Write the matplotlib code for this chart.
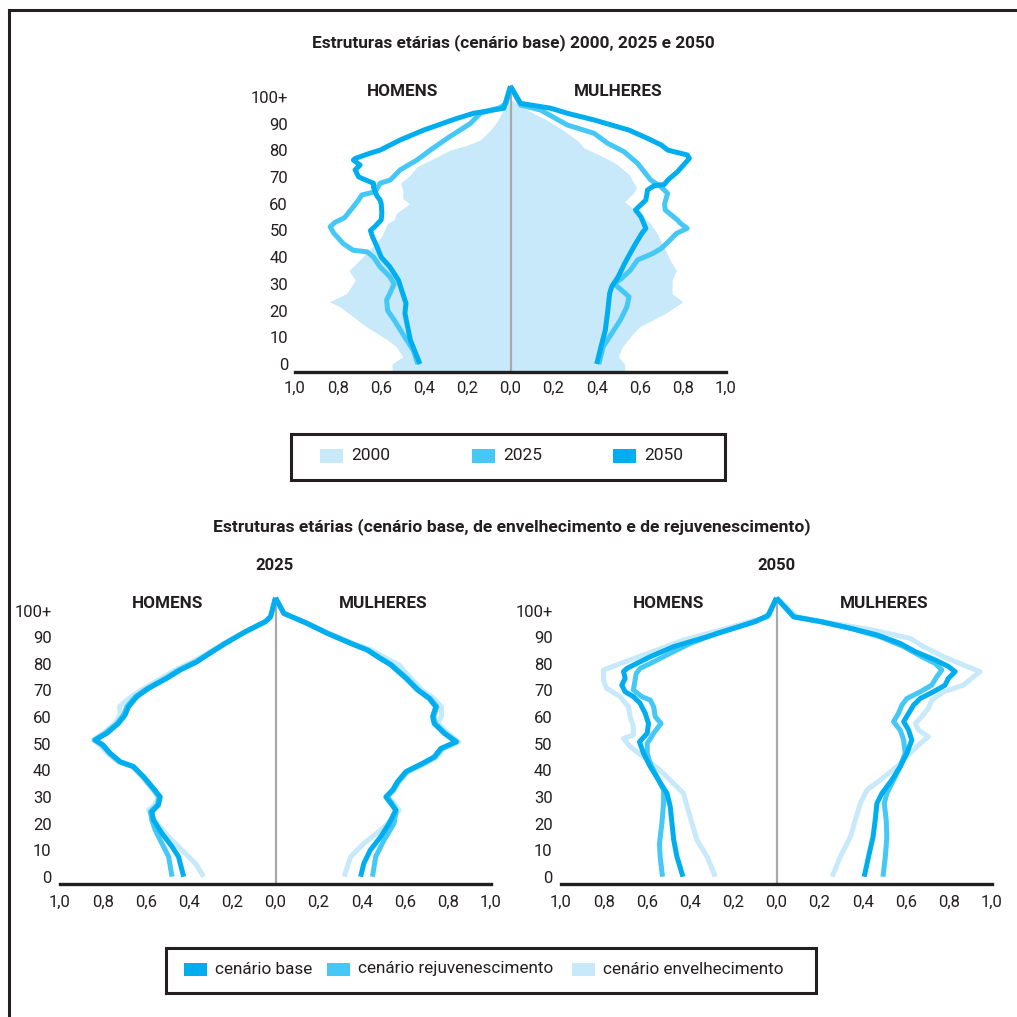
import matplotlib
matplotlib.use("Agg")
import matplotlib.pyplot as plt
from matplotlib import font_manager
from matplotlib.patches import Rectangle
from matplotlib.lines import Line2D
import numpy as np

W = H = 1017
installed = {f.name for f in font_manager.fontManager.ttflist}
FONT = [f for f in ["Liberation Sans Narrow", "Roboto", "DejaVu Sans"] if f in installed]
plt.rcParams["font.family"] = FONT

C_LIGHT = "#c7e9f9"
C_MID = "#45c8f5"
C_DARK = "#00aeef"
INK = "#231f20"
GREY = "#a7a9ac"

# ---- data: (age, % of population) --------------------------------------
# top chart: base scenario 2000 / 2025 / 2050
h2000 = [(0, 0.55), (2.7, 0.50), (6.5, 0.53), (9, 0.57), (14, 0.67), (17.7, 0.73),
         (21.4, 0.79), (23.3, 0.84), (26.4, 0.76), (31.4, 0.72), (35, 0.75), (39, 0.70),
         (44, 0.64), (47.6, 0.60), (52.7, 0.57), (54, 0.54), (56.4, 0.53), (60, 0.47),
         (62, 0.50), (65, 0.50), (67.7, 0.51), (70.8, 0.465), (73.9, 0.434), (77.6, 0.34),
         (80.1, 0.28), (82, 0.20), (83.9, 0.14), (87.6, 0.093), (91, 0.06), (95, 0.035),
         (98, 0.0)]
m2000 = [(0, 0.53), (2.7, 0.50), (6.5, 0.52), (11.5, 0.57), (14, 0.60), (19, 0.72),
         (23.3, 0.80), (26.4, 0.75), (31.4, 0.75), (35, 0.77), (39, 0.74), (44, 0.71),
         (49, 0.68), (52.6, 0.65), (56.4, 0.60), (60.7, 0.53), (64, 0.57), (66, 0.585),
         (71, 0.55), (75, 0.49), (78, 0.42), (81, 0.34), (83.4, 0.315), (87.5, 0.246),
         (91.3, 0.17), (93.8, 0.108), (97.5, 0.03), (99, 0.0)]
h2025 = [(0, 0.43), (5, 0.45), (10, 0.49), (16.5, 0.54), (20, 0.57), (24, 0.575),
         (26.4, 0.56), (30, 0.54), (32.7, 0.56), (36.4, 0.605), (40, 0.635), (42, 0.665),
         (42.6, 0.73), (45, 0.775), (49, 0.82), (51.4, 0.837), (53, 0.815), (54.8, 0.77),
         (58.3, 0.735), (61.4, 0.705), (63.3, 0.69), (64.5, 0.628), (67.7, 0.605),
         (68.9, 0.558), (72.7, 0.512), (76.4, 0.434), (80.1, 0.372), (84.5, 0.294),
         (90.1, 0.186), (93.9, 0.14), (96, 0.05), (97.5, 0.02), (104, 0.0)]
m2025 = [(0, 0.41), (6.5, 0.43), (11.5, 0.47), (16.5, 0.51), (21.4, 0.54), (25.2, 0.55),
         (27.7, 0.515), (30, 0.48), (32, 0.515), (35, 0.555), (39, 0.59), (41.4, 0.66),
         (43.3, 0.70), (46.4, 0.74), (48.9, 0.77), (50.8, 0.82), (52.6, 0.79), (53.9, 0.775),
         (57.7, 0.718), (60, 0.715), (63.9, 0.729), (66.4, 0.698), (68.9, 0.651),
         (75.2, 0.589), (79.5, 0.527), (82.7, 0.45), (86.4, 0.388), (89.5, 0.264),
         (95.1, 0.14), (97, 0.047), (104, 0.0)]
h2050 = [(0, 0.42), (9, 0.465), (19, 0.49), (22.7, 0.485), (26.4, 0.50), (31.4, 0.52),
         (36.4, 0.56), (40, 0.60), (44, 0.62), (47.6, 0.64), (50, 0.65), (51.4, 0.63),
         (54, 0.60), (56.4, 0.597), (60, 0.60), (61.4, 0.605), (63, 0.62), (66, 0.635),
         (67.7, 0.636), (69, 0.675), (70.1, 0.705), (72.7, 0.721), (74.5, 0.698),
         (76.4, 0.729), (77, 0.72), (79, 0.65), (80.1, 0.605), (83.9, 0.512), (87.6, 0.403),
         (92, 0.248), (93.9, 0.171), (95.8, 0.031), (104, 0.0)]
m2050 = [(0, 0.40), (6.5, 0.42), (12.7, 0.44), (19, 0.45), (26.4, 0.46), (29, 0.47),
         (32.7, 0.50), (37.7, 0.53), (41.4, 0.555), (45, 0.58), (49, 0.61), (50.8, 0.628),
         (55.2, 0.605), (57.7, 0.58), (61.4, 0.628), (65.2, 0.636), (66.8, 0.667),
         (67.2, 0.713), (68.9, 0.73), (72, 0.775), (77, 0.83), (78.3, 0.82), (80.1, 0.73),
         (82, 0.70), (84.5, 0.636), (87.6, 0.55), (91.4, 0.388), (93.9, 0.264),
         (95.8, 0.186), (97.6, 0.047), (104, 0.0)]

# bottom left: 2025 by scenario
h25_base = [(0, 0.426), (7.5, 0.45), (11.3, 0.48), (16.3, 0.527), (21.3, 0.566), (24.4, 0.574),
            (27, 0.543), (30, 0.535), (33.2, 0.566), (37.6, 0.612), (41.4, 0.659), (43.2, 0.72),
            (46.4, 0.767), (49.5, 0.80), (51.4, 0.837), (53.9, 0.783), (57.6, 0.729),
            (60.8, 0.698), (63.9, 0.682), (67.7, 0.643), (70.8, 0.589), (74.6, 0.504),
            (77.7, 0.442), (80.8, 0.364), (83.3, 0.318), (87.7, 0.233), (92.1, 0.14),
            (95.9, 0.047), (97.7, 0.023), (104.8, 0.0)]
h25_rejuv = [(0, 0.48), (7.5, 0.496), (12.5, 0.527), (17.5, 0.558), (21.3, 0.574), (24.4, 0.58),
             (27, 0.548), (30, 0.54), (33.2, 0.57), (37.6, 0.615), (41.4, 0.66), (43.2, 0.725),
             (46.4, 0.77), (49.5, 0.805), (51.4, 0.84), (53.9, 0.79), (57.6, 0.735),
             (60.8, 0.705), (63.9, 0.69), (67.7, 0.65), (70.8, 0.595), (74.6, 0.51),
             (77.7, 0.45), (80.8, 0.37), (83.3, 0.322), (87.7, 0.235), (92.1, 0.14),
             (95.9, 0.047), (97.7, 0.023), (104.8, 0.0)]
h25_envel = [(0, 0.333), (5, 0.372), (10, 0.434), (15, 0.496), (20, 0.55), (25, 0.589),
             (27, 0.56), (30, 0.545), (33.2, 0.575), (37.6, 0.62), (41.4, 0.665), (43.2, 0.73),
             (46.4, 0.78), (49.5, 0.815), (51.4, 0.845), (53.9, 0.80), (57.6, 0.745),
             (60.8, 0.72), (63.9, 0.725), (67.7, 0.67), (70.8, 0.61), (74.6, 0.53),
             (77.7, 0.465), (80.8, 0.385), (83.3, 0.33), (87.7, 0.24), (92.1, 0.14),
             (95.9, 0.047), (97.7, 0.023), (104.8, 0.0)]
m25_base = [(0, 0.395), (5, 0.41), (10, 0.44), (15, 0.488), (20, 0.527), (25, 0.558),
            (27.6, 0.535), (30, 0.512), (32.6, 0.543), (35.7, 0.566), (39.5, 0.605),
            (42.6, 0.682), (45, 0.736), (48.2, 0.767), (50.7, 0.837), (53.9, 0.783),
            (57.6, 0.736), (60.2, 0.729), (63.9, 0.744), (67, 0.713), (70.2, 0.659),
            (74.6, 0.605), (79.6, 0.535), (82.7, 0.473), (85.2, 0.426), (87.7, 0.349),
            (91.5, 0.24), (95.2, 0.147), (99, 0.039), (104.8, 0.0)]
m25_rejuv = [(0, 0.45), (7.5, 0.465), (13.8, 0.504), (20, 0.55), (23.8, 0.558), (25, 0.56),
             (27.6, 0.54), (30, 0.518), (32.6, 0.548), (35.7, 0.57), (39.5, 0.61),
             (42.6, 0.687), (45, 0.74), (48.2, 0.772), (50.7, 0.842), (53.9, 0.788),
             (57.6, 0.741), (60.2, 0.734), (63.9, 0.749), (67, 0.718), (70.2, 0.664),
             (74.6, 0.61), (79.6, 0.54), (82.7, 0.478), (85.2, 0.43), (87.7, 0.352),
             (91.5, 0.242), (95.2, 0.148), (99, 0.039), (104.8, 0.0)]
m25_envel = [(0, 0.318), (7.5, 0.349), (12.5, 0.41), (17.5, 0.488), (22.5, 0.55), (25, 0.574),
             (27.6, 0.55), (30, 0.52), (32.6, 0.55), (35.7, 0.575), (39.5, 0.615),
             (42.6, 0.695), (45, 0.75), (48.2, 0.78), (50.7, 0.85), (53.9, 0.80),
             (57.6, 0.755), (60.2, 0.77), (63.9, 0.77), (67, 0.735), (70.2, 0.68),
             (74.6, 0.628), (79.6, 0.574), (82.7, 0.50), (85.2, 0.445), (87.7, 0.36),
             (91.5, 0.25), (95.2, 0.15), (99, 0.039), (104.8, 0.0)]

# bottom right: 2050 by scenario
h50_base = [(0, 0.434), (7.5, 0.462), (13.8, 0.477), (20, 0.485), (26.3, 0.493), (31.3, 0.508),
            (36.3, 0.547), (41.4, 0.586), (46.4, 0.617), (50.7, 0.636), (53.9, 0.60),
            (57.6, 0.594), (61.4, 0.609), (65.2, 0.633), (67.7, 0.664), (69.5, 0.702),
            (72, 0.718), (74.6, 0.702), (77.1, 0.71), (78.3, 0.694), (80.2, 0.648),
            (82.7, 0.586), (86.5, 0.477), (90.2, 0.322), (93.4, 0.198), (95.9, 0.098),
            (98.4, 0.036), (104.8, 0.0)]
h50_rejuv = [(0, 0.529), (7.5, 0.54), (12.5, 0.543), (20, 0.532), (27.6, 0.524), (32.6, 0.524),
             (37.6, 0.555), (42.6, 0.586), (46.4, 0.60), (50.1, 0.60), (53.9, 0.57),
             (57.6, 0.536), (60.2, 0.563), (63.9, 0.57), (66.4, 0.586), (67.7, 0.625),
             (70.2, 0.664), (74, 0.656), (76.4, 0.651), (78.3, 0.633), (80.8, 0.57),
             (84, 0.493), (87.7, 0.40), (91.5, 0.276), (94.6, 0.152), (97.7, 0.043),
             (104.8, 0.0)]
h50_envel = [(0, 0.284), (7.5, 0.322), (13.8, 0.369), (20, 0.392), (26.3, 0.415), (31.3, 0.431),
             (35, 0.477), (40, 0.54), (45, 0.617), (48.9, 0.679), (52, 0.71), (53.3, 0.664),
             (56.4, 0.664), (60.2, 0.679), (63.9, 0.687), (67.7, 0.726), (70.8, 0.788),
             (74, 0.803), (77.7, 0.803), (79.6, 0.741), (81.5, 0.679), (85.2, 0.555),
             (89, 0.431), (92.7, 0.26), (95.9, 0.121), (97.7, 0.043), (104.8, 0.0)]
m50_base = [(0, 0.407), (7.5, 0.427), (15, 0.448), (21.3, 0.458), (27.6, 0.466), (31.3, 0.489),
            (36.3, 0.535), (41.4, 0.574), (46.4, 0.605), (51.4, 0.628), (55.1, 0.613),
            (58.3, 0.59), (61.4, 0.613), (64.5, 0.636), (67, 0.667), (69.5, 0.728),
            (72, 0.782), (74.6, 0.798), (77.1, 0.829), (79, 0.798), (81.5, 0.736),
            (84.6, 0.644), (87.7, 0.574), (90.9, 0.466), (93.4, 0.343), (95.9, 0.204),
            (97.7, 0.08), (104.8, 0.0)]
m50_rejuv = [(0, 0.494), (7.5, 0.505), (15, 0.512), (21.3, 0.509), (27.6, 0.50), (31.3, 0.512),
             (36.3, 0.543), (41.4, 0.574), (46.4, 0.597), (51.4, 0.59), (55.1, 0.574),
             (58.3, 0.543), (61.4, 0.566), (64.5, 0.582), (67, 0.605), (69.5, 0.667),
             (72, 0.72), (75.2, 0.744), (77.7, 0.767), (80.2, 0.736), (82.7, 0.674),
             (86.5, 0.59), (90.2, 0.481), (93.4, 0.343), (95.9, 0.204), (97.7, 0.08),
             (104.8, 0.0)]
m50_envel = [(0, 0.258), (7.5, 0.296), (15, 0.343), (21.3, 0.366), (27.6, 0.389), (32.6, 0.42),
             (36.3, 0.481), (41.4, 0.559), (46.4, 0.62), (50.1, 0.667), (52.6, 0.705),
             (55.1, 0.659), (57.6, 0.644), (60.2, 0.674), (63.3, 0.705), (66.4, 0.72),
             (69.5, 0.775), (72, 0.867), (74.6, 0.906), (77.1, 0.944), (79.6, 0.867),
             (82.7, 0.775), (86.5, 0.682), (89.6, 0.62), (92.7, 0.45), (95.2, 0.265),
             (97.7, 0.096), (104.8, 0.0)]

age_ticks = list(range(0, 101, 10))
age_labels = [str(a) for a in age_ticks[:-1]] + ["100+"]
pct_ticks = np.round(np.arange(-1.0, 1.01, 0.2), 1)
pct_labels = [f"{abs(v):.1f}".replace(".", ",") for v in pct_ticks]

legend_top = ["2000", "2025", "2050"]
legend_bottom = ["cenário base", "cenário rejuvenescimento", "cenário envelhecimento"]

fig = plt.figure(figsize=(W / 100, H / 100), dpi=100)


def arr(series):
    a = np.array(series)
    return a[:, 0], a[:, 1]


def pyramid(left, right, top, bottom, age0_y, px_year, xpad, ypad):
    ax = fig.add_axes([left / W, 1 - bottom / H, (right - left) / W, (bottom - top) / H])
    ax.set_xlim(-1, 1)
    ax.set_ylim((age0_y - bottom) / px_year, (age0_y - top) / px_year)
    for s in ("top", "right", "left"):
        ax.spines[s].set_visible(False)
    ax.spines["bottom"].set_color(INK)
    ax.spines["bottom"].set_linewidth(2.4)
    ax.set_xticks(pct_ticks, pct_labels)
    ax.set_yticks(age_ticks, age_labels)
    ax.tick_params(axis="both", length=0, labelsize=12, colors=INK)
    ax.tick_params(axis="x", pad=xpad)
    ax.tick_params(axis="y", pad=ypad)
    ax.patch.set_alpha(0)
    return ax


def center_line(ax, peak):
    ax.plot([0, 0], [ax.get_ylim()[0], peak], color=GREY, lw=1.6, zorder=2)


def draw(ax, series, color, side, z):
    a, v = arr(series)
    sign = -1 if side == "h" else 1
    ax.plot(sign * v, a, color=color, lw=3.6, zorder=z,
            solid_joinstyle="round", solid_capstyle="butt")


def sex_labels(ax, y):
    ax.text(-0.5, y, "HOMENS", ha="center", va="center",
            fontsize=12.3, fontweight="bold", color=INK)
    ax.text(0.5, y, "MULHERES", ha="center", va="center",
            fontsize=12.3, fontweight="bold", color=INK)


# ---- top pyramid ----------------------------------------------------------
ax = pyramid(295, 726, 78, 372, 364, 2.67, 6, 5)
ylo = ax.get_ylim()[0]
for series, side in ((h2000, "h"), (m2000, "m")):
    a, v = arr(series)
    a = np.r_[ylo, a]
    v = np.r_[v[0], v]
    sign = -1 if side == "h" else 1
    ax.fill_betweenx(a, 0, sign * v, color=C_LIGHT, lw=0, zorder=1)
center_line(ax, 104)
draw(ax, h2025, C_MID, "h", 3)
draw(ax, m2025, C_MID, "m", 3)
draw(ax, h2050, C_DARK, "h", 4)
draw(ax, m2050, C_DARK, "m", 4)
sex_labels(ax, (364 - 92) / 2.67)

# ---- bottom pyramids ------------------------------------------------------
panels = [
    (60, 491, (h25_envel, m25_envel), (h25_rejuv, m25_rejuv), (h25_base, m25_base)),
    (561, 992, (h50_envel, m50_envel), (h50_rejuv, m50_rejuv), (h50_base, m50_base)),
]
for left, right, envel, rejuv, base in panels:
    ax = pyramid(left, right, 588, 884, 876.7, 2.66, 8, 6)
    center_line(ax, 104.8)
    draw(ax, envel[0], C_LIGHT, "h", 3)
    draw(ax, envel[1], C_LIGHT, "m", 3)
    draw(ax, rejuv[0], C_MID, "h", 4)
    draw(ax, rejuv[1], C_MID, "m", 4)
    draw(ax, base[0], C_DARK, "h", 5)
    draw(ax, base[1], C_DARK, "m", 5)
    sex_labels(ax, (876.7 - 604) / 2.66)


# ---- titles ---------------------------------------------------------------
def ftext(x, y, s, **kw):
    fig.text(x / W, 1 - y / H, s, color=INK, va="center", **kw)


ftext(513, 43, "Estruturas etárias (cenário base) 2000, 2025 e 2050",
      ha="center", fontsize=12.4, fontweight="bold")
ftext(512, 527, "Estruturas etárias (cenário base, de envelhecimento e de rejuvenescimento)",
      ha="center", fontsize=12.6, fontweight="bold")
ftext(275, 566, "2025", ha="center", fontsize=12, fontweight="bold")
ftext(776, 566, "2050", ha="center", fontsize=12, fontweight="bold")


# ---- legends --------------------------------------------------------------
def box(x0, y0, x1, y1):
    fig.add_artist(Rectangle((x0 / W, 1 - y1 / H), (x1 - x0) / W, (y1 - y0) / H,
                             transform=fig.transFigure, fill=False, ec=INK, lw=2.2))


def swatch(x, y, color, label, size):
    fig.add_artist(Rectangle((x / W, 1 - (y + 6.5) / H), 23 / W, 13 / H,
                             transform=fig.transFigure, fc=color, ec="none"))
    ftext(x + 31, y, label, ha="left", fontsize=size)


box(291, 434, 725, 480)
for x, c, lab in zip((320, 472, 613), (C_LIGHT, C_MID, C_DARK), legend_top):
    swatch(x, 456, c, lab, 12.5)

box(166, 948, 816, 993)
for x, c, lab in zip((184, 327, 572), (C_DARK, C_MID, C_LIGHT), legend_bottom):
    swatch(x, 969, c, lab, 12.3)

# ---- outer frame (top and left edges only) --------------------------------
fig.add_artist(Line2D([9 / W, 1], [1 - 10 / H, 1 - 10 / H], transform=fig.transFigure,
                      color=INK, lw=2.2))
fig.add_artist(Line2D([9 / W, 9 / W], [0, 1 - 10 / H], transform=fig.transFigure,
                      color=INK, lw=2.2))

fig.savefig("out.png", dpi=100, facecolor="white")
